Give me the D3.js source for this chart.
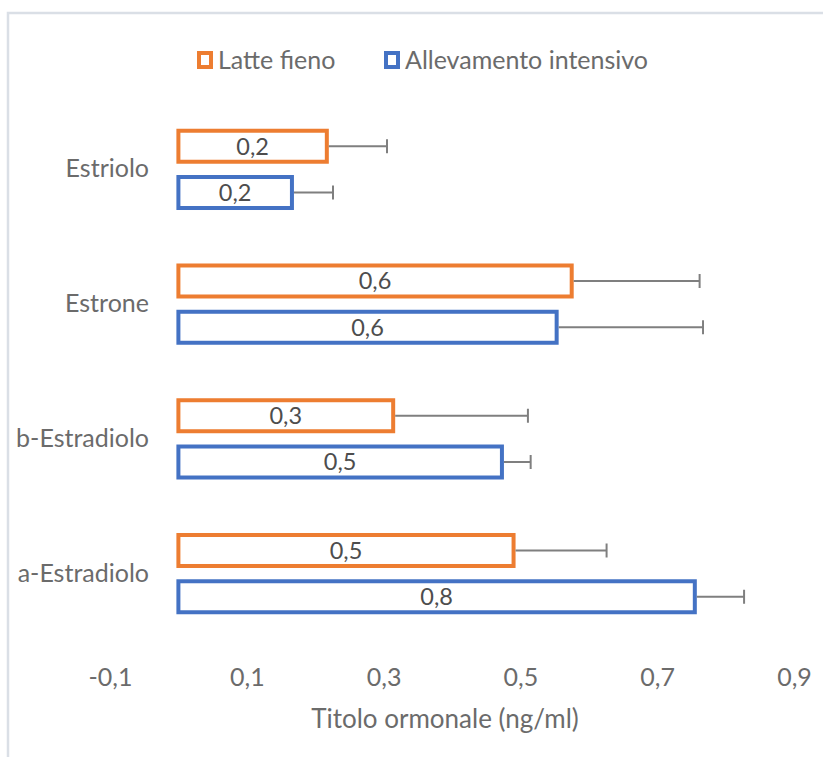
<!DOCTYPE html>
<html>
<head>
<meta charset="utf-8">
<script src="https://cdn.jsdelivr.net/npm/d3@7"></script>
<style>
  body { margin: 0; background: #fff; }
  text { font-family: Lato, "Open Sans", sans-serif; }
</style>
</head>
<body>
<div id="chart"></div>
<script>
// dati
const categories = ["Estriolo", "Estrone", "b-Estradiolo", "a-Estradiolo"];
const series = ["Latte fieno", "Allevamento intensivo"];
const latteFieno = [0.217, 0.575, 0.314, 0.490];
const latteFienoErr = [0.088, 0.187, 0.197, 0.136];
const intensivo = [0.166, 0.553, 0.473, 0.755];
const intensivoErr = [0.060, 0.214, 0.042, 0.072];
const xTicks = [-0.1, 0.1, 0.3, 0.5, 0.7, 0.9];

const width = 823, height = 757;
const colors = { "Latte fieno": "#ED7D31", "Allevamento intensivo": "#4472C4" };
const textColor = "#6b6b6b";

const rows = [];
categories.forEach((c, i) => {
    rows.push({ cat: c, serie: series[0], v: latteFieno[i], err: latteFienoErr[i] });
    rows.push({ cat: c, serie: series[1], v: intensivo[i], err: intensivoErr[i] });
});

const svg = d3.select("#chart").append("svg")
    .attr("width", width)
    .attr("height", height);

// cornice
svg.append("rect")
    .attr("x", 8).attr("y", 13)
    .attr("width", width + 20).attr("height", height + 20)
    .attr("fill", "none")
    .attr("stroke", "#dadfe6")
    .attr("stroke-width", 2.5);

// scale
const x = d3.scaleLinear().domain([-0.1, 0.9]).range([110, 794]);
const y0 = d3.scaleBand().domain(categories).range([102, 641])
    .paddingInner(0.2).paddingOuter(0.1);
const y1 = d3.scaleBand().domain(series).range([0, y0.bandwidth()]).padding(0.33);

const fmt = v => v.toFixed(1).replace(".", ",");

const g = svg.append("g");

// barre
g.selectAll(".bar")
    .data(rows)
    .enter()
    .append("rect")
    .attr("class", "bar")
    .attr("x", x(0))
    .attr("y", d => y0(d.cat) + y1(d.serie))
    .attr("width", d => x(d.v) - x(0))
    .attr("height", y1.bandwidth())
    .attr("fill", "#fff")
    .attr("stroke", d => colors[d.serie])
    .attr("stroke-width", 4);

// barre di errore
const eb = g.selectAll(".err")
    .data(rows)
    .enter()
    .append("g")
    .attr("class", "err")
    .attr("stroke", "#7f7f7f")
    .attr("stroke-width", 2);

eb.append("line")
    .attr("x1", d => x(d.v) + 2)
    .attr("x2", d => x(d.v + d.err))
    .attr("y1", d => y0(d.cat) + y1(d.serie) + y1.bandwidth() / 2)
    .attr("y2", d => y0(d.cat) + y1(d.serie) + y1.bandwidth() / 2);

eb.append("line")
    .attr("x1", d => x(d.v + d.err))
    .attr("x2", d => x(d.v + d.err))
    .attr("y1", d => y0(d.cat) + y1(d.serie) + y1.bandwidth() / 2 - 7)
    .attr("y2", d => y0(d.cat) + y1(d.serie) + y1.bandwidth() / 2 + 7);

// etichette valori
g.selectAll(".label")
    .data(rows)
    .enter()
    .append("text")
    .attr("class", "label")
    .attr("x", d => (x(0) + x(d.v)) / 2)
    .attr("y", d => y0(d.cat) + y1(d.serie) + y1.bandwidth() / 2)
    .attr("dy", "0.36em")
    .attr("text-anchor", "middle")
    .attr("font-size", "23.5px")
    .attr("fill", "#4d4d4d")
    .text(d => fmt(d.v));

// asse Y (categorie)
const yAxis = svg.append("g")
    .attr("transform", "translate(149,0)")
    .call(d3.axisLeft(y0).tickSize(0).tickPadding(0));
yAxis.select(".domain").remove();
yAxis.selectAll("text")
    .attr("font-size", "25px")
    .attr("fill", textColor)
    .style("font-family", "Lato, 'Open Sans', sans-serif");

// asse X
const xAxis = svg.append("g")
    .attr("transform", "translate(0,677)")
    .call(d3.axisBottom(x).tickValues(xTicks).tickSize(0).tickPadding(0).tickFormat(d => fmt(d)));
xAxis.select(".domain").remove();
xAxis.selectAll("text")
    .attr("y", 0)
    .attr("dy", "0.36em")
    .attr("font-size", "25px")
    .attr("fill", textColor)
    .style("font-family", "Lato, 'Open Sans', sans-serif");

// titolo asse X
svg.append("text")
    .attr("x", 445)
    .attr("y", 719)
    .attr("dy", "0.36em")
    .attr("text-anchor", "middle")
    .attr("font-size", "26px")
    .attr("fill", textColor)
    .text("Titolo ormonale (ng/ml)");

// legenda
const legendX = [197, 384];
const leg = svg.selectAll(".legend")
    .data(series)
    .enter()
    .append("g")
    .attr("class", "legend")
    .attr("transform", (d, i) => `translate(${legendX[i]},51)`);

leg.append("rect")
    .attr("x", 2).attr("y", 2)
    .attr("width", 12).attr("height", 14)
    .attr("fill", "#fff")
    .attr("stroke", d => colors[d])
    .attr("stroke-width", 4);

leg.append("text")
    .attr("x", 21)
    .attr("y", 9)
    .attr("dy", "0.36em")
    .attr("font-size", "25px")
    .attr("fill", textColor)
    .text(d => d);
</script>
</body>
</html>
